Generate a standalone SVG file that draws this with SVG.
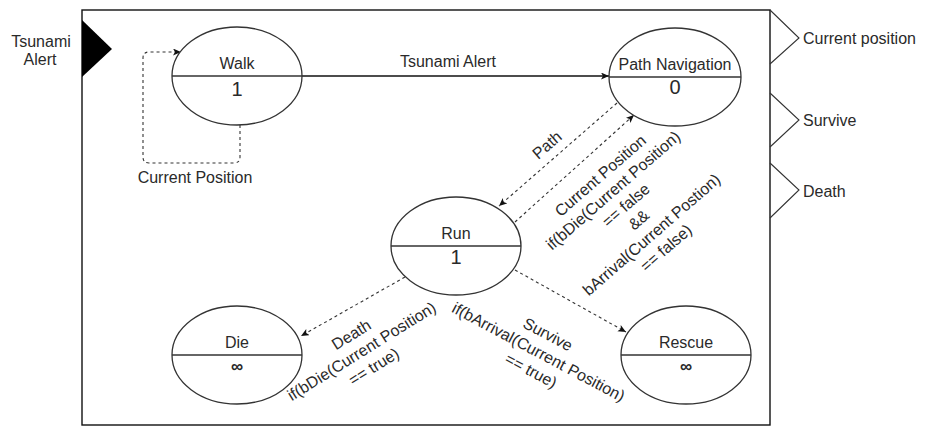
<svg xmlns="http://www.w3.org/2000/svg" width="934" height="441" viewBox="0 0 934 441">
<style>
text{font-family:"Liberation Sans",Arial,sans-serif;fill:#2a2a2a;font-size:16px}
.c{text-anchor:middle}
.node{fill:#fff;stroke:#333;stroke-width:1.3}
.div{stroke:#333;stroke-width:1.3}
.big{font-size:20px}
.inf{font-size:17px;font-weight:bold}
.dash{fill:none;stroke:#333;stroke-width:1.1;stroke-dasharray:3 3}
.solid{fill:none;stroke:#111;stroke-width:1.4}
.chev{fill:none;stroke:#333;stroke-width:1.1}
</style>
<defs>
<marker id="arr" markerUnits="userSpaceOnUse" markerWidth="10" markerHeight="8" refX="8" refY="3.5" orient="auto">
<path d="M0,0 L8,3.5 L0,7 L2,3.5 z" fill="#111"/>
</marker>
</defs>
<rect width="934" height="441" fill="#fff"/>
<g id="frame">
<rect x="82" y="10" width="688" height="415" fill="none" stroke="#111" stroke-width="1.4"/>
<polygon points="82,20 112,49 82,77" fill="#000"/>
<text class="c" x="41" y="47" font-size="15.5">Tsunami</text>
<text class="c" x="40" y="65" font-size="15.5">Alert</text>
</g>
<g id="outputs">
<polyline class="chev" points="770,10 799,38 770,64"/>
<polyline class="chev" points="770,93 799,120 770,147"/>
<polyline class="chev" points="770,163 799,190 770,218"/>
<text x="803" y="44">Current position</text>
<text x="803" y="126">Survive</text>
<text x="803" y="197">Death</text>
</g>
<g id="connectors">
<line class="solid" x1="302" y1="76" x2="609" y2="76" marker-end="url(#arr)"/>
<text class="c" x="448" y="67">Tsunami Alert</text>
<path class="dash" d="M240,125 L240,157 Q240,163 234,163 L149,163 Q143,163 143,157 L143,58 Q143,52 149,52 L181,52" marker-end="url(#arr)"/>
<text class="c" x="195" y="183">Current Position</text>
<line class="dash" x1="617" y1="103" x2="499" y2="206" marker-end="url(#arr)"/>
<text class="c" transform="translate(547,145) rotate(-41)" y="5.5">Path</text>
<line class="dash" x1="515" y1="222" x2="634" y2="115" marker-end="url(#arr)"/>
<text class="c" transform="translate(634,211) rotate(-41)">
<tspan x="0" y="-43.3">Current Position</tspan>
<tspan x="0" y="-23.8">if(bDie(Current Position)</tspan>
<tspan x="0" y="-4.3">== false</tspan>
<tspan x="0" y="15.3">&amp;&amp;</tspan>
<tspan x="0" y="34.8">bArrival(Current Postion)</tspan>
<tspan x="0" y="54.3">== false)</tspan>
</text>
<line class="dash" x1="515" y1="270" x2="626" y2="332" marker-end="url(#arr)"/>
<text class="c" transform="translate(540.5,353) rotate(28)">
<tspan x="0" y="-14.5">Survive</tspan>
<tspan x="0" y="5.5">if(bArrival(Current Position)</tspan>
<tspan x="0" y="25.5">== true)</tspan>
</text>
<line class="dash" x1="405" y1="277" x2="301" y2="336" marker-end="url(#arr)"/>
<text class="c" transform="translate(363.5,350) rotate(-32)">
<tspan x="0" y="-14">Death</tspan>
<tspan x="0" y="5.5">if(bDie(Current Position)</tspan>
<tspan x="0" y="25">== true)</tspan>
</text>
</g>
<g id="walk">
<ellipse class="node" cx="237" cy="76" rx="65" ry="49"/>
<line class="div" x1="172" y1="76" x2="302" y2="76"/>
<text class="c" x="237" y="69">Walk</text>
<text class="c big" x="237" y="96">1</text>
</g>
<g id="path-navigation">
<ellipse class="node" cx="675" cy="77" rx="66" ry="49"/>
<line class="div" x1="609" y1="77" x2="741" y2="77"/>
<text class="c" x="675" y="70">Path Navigation</text>
<text class="c big" x="675" y="94">0</text>
</g>
<g id="run">
<ellipse class="node" cx="456" cy="246" rx="65" ry="49"/>
<line class="div" x1="391" y1="246" x2="521" y2="246"/>
<text class="c" x="456" y="239">Run</text>
<text class="c big" x="456" y="264">1</text>
</g>
<g id="die">
<ellipse class="node" cx="237" cy="355" rx="65" ry="49"/>
<line class="div" x1="172" y1="355" x2="302" y2="355"/>
<text class="c" x="237" y="348">Die</text>
<text class="c inf" x="237" y="372">∞</text>
</g>
<g id="rescue">
<ellipse class="node" cx="686" cy="355" rx="65" ry="49"/>
<line class="div" x1="621" y1="355" x2="751" y2="355"/>
<text class="c" x="686" y="348">Rescue</text>
<text class="c inf" x="686" y="372">∞</text>
</g>
</svg>
